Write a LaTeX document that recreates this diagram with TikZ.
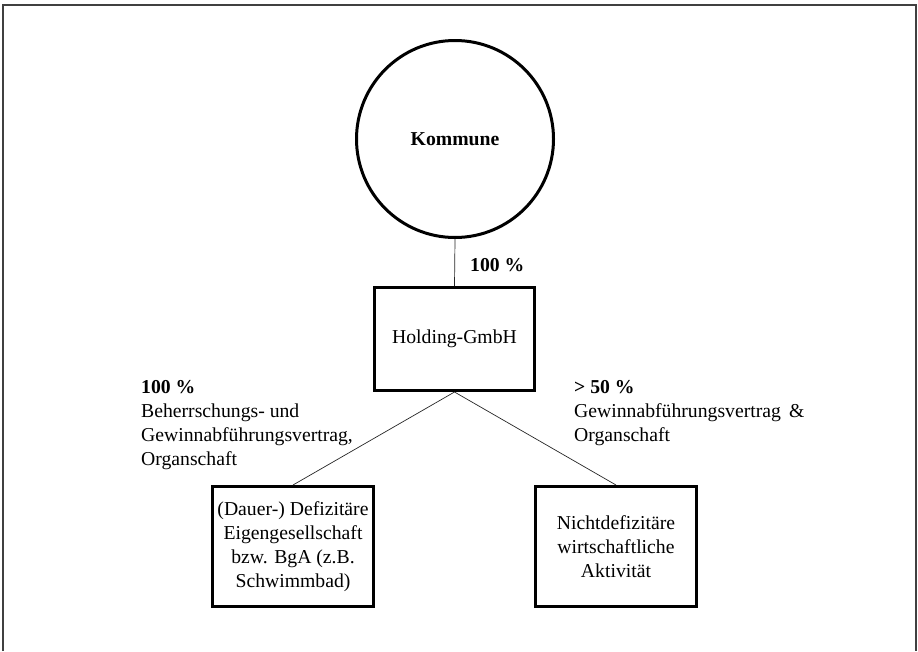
\documentclass[tikz,border=0pt]{standalone}
\usepackage{fontspec}
\setmainfont{Liberation Serif}
\begin{document}
\begin{tikzpicture}[x=1pt,y=-1pt,
  txt/.style={font=\fontsize{19.7}{24}\selectfont},
  btxt/.style={font=\fontsize{19.7}{24}\selectfont\bfseries},
  boxnode/.style={draw, line width=3pt, align=center, inner sep=0pt, txt},
  conn/.style={line width=0.7pt, black!85},
  lbl/.style={align=left, inner sep=0pt, anchor=north west, txt}]
\useasboundingbox (0,0) rectangle (918,651);
\draw[line width=1.5pt, black!75] (3,651) -- (3,5) -- (916,5) -- (916,651);
\node[circle, draw, line width=3pt, minimum size=197pt, inner sep=0pt, btxt] (kommune) at (455,139) {Kommune};
\node[boxnode, minimum width=160pt, minimum height=103pt] (holding) at (454.5,339) {Holding-GmbH};
\node[boxnode, minimum width=161pt, minimum height=120pt] (left) at (293,546.5) {(Dauer-) Defizitäre\\Eigengesellschaft\\bzw. BgA (z.B.\\Schwimmbad)};
\node[boxnode, minimum width=161pt, minimum height=120pt] (right) at (616,546.5) {Nichtdefizitäre\\wirtschaftliche\\Aktivität};
\draw[conn] (kommune.south) -- (holding.north);
\draw[conn] (holding.south) -- (left.north);
\draw[conn] (holding.south) -- (right.north);
\node[btxt, anchor=west, inner sep=0pt] (p1) at (470,265) {100 \%};
\node[lbl] (lab1) at (141,380) {\textbf{100 \%}\\Beherrschungs- und\\Gewinnabführungsvertrag,\\Organschaft};
\node[lbl] (lab2) at (574,380) {\textbf{> 50 \%}\\Gewinnabführungsvertrag \,\&\\Organschaft};
\end{tikzpicture}
\end{document}
